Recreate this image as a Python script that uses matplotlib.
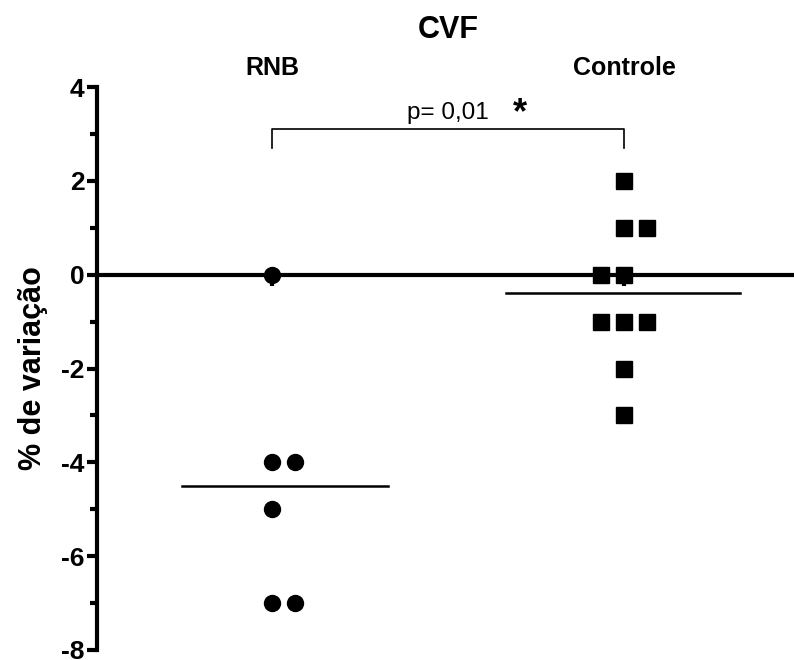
import matplotlib
matplotlib.use("Agg")
import matplotlib.pyplot as plt
import numpy as np

plt.rcParams['font.family'] = ['Liberation Sans', 'DejaVu Sans']

# Percent change in CVF per subject
groups = ["RNB", "Controle"]
rnb_values = [0, -4, -4, -5, -7, -7]
controle_values = [2, 1, 1, 0, 0, -1, -1, -1, -2, -3]
# horizontal slot of each point inside its column (for overlapping values)
rnb_slots = [0, 0, 1, 0, 0, 1]
controle_slots = [0, 0, 1, -1, 0, -1, 0, 1, 0, 0]
p_text = "p= 0,01"
y_ticks = [-8, -6, -4, -2, 0, 2, 4]

fig = plt.figure(figsize=(7.94, 6.6), dpi=100)
ax = fig.add_axes([0.1222, 0.0152, 0.8778, 0.8528])
ax.set_xlim(0.503, 2.483)
ax.set_ylim(-8, 4)

spacing = 0.065
series = [(rnb_values, rnb_slots, 'o'), (controle_values, controle_slots, 's')]
for i, (vals, slots, mk) in enumerate(series, start=1):
    xs = i + np.array(slots) * spacing
    ax.plot(xs, vals, linestyle='none', marker=mk, color='black',
            markersize=11.5, zorder=4, clip_on=False)
    m = np.mean(vals)
    ax.plot([i - 0.257, i + 0.33] if i == 1 else [i - 0.335, i + 0.33],
            [m, m], color='black', lw=1.8, zorder=3)

# spines: left axis and zero line
for s in ['top', 'right']:
    ax.spines[s].set_visible(False)
ax.spines['bottom'].set_position(('data', 0))
ax.spines['bottom'].set_linewidth(3)
ax.spines['left'].set_linewidth(3)
ax.spines['left'].set_bounds(-8, 4)

ax.set_yticks(y_ticks)
ax.set_yticklabels([str(t) for t in y_ticks], fontsize=19, fontweight='bold')
ax.set_yticks(np.arange(-7, 4, 2), minor=True)
ax.tick_params(axis='y', which='major', length=7, width=3, pad=2)
ax.tick_params(axis='y', which='minor', length=5, width=3)
ax.set_xticks([1, 2])
ax.set_xticklabels([])
ax.tick_params(axis='x', which='major', length=8, width=3, direction='out')

ax.set_ylabel("% de variação", fontsize=22, fontweight='bold')
ax.yaxis.set_label_coords(-0.07, 0.5)

# group labels above the columns
for i, g in enumerate(groups, start=1):
    ax.text(i, 4.4, g, ha='center', va='center', fontsize=18,
            fontweight='bold', clip_on=False)
fig.text(0.564, 0.955, "CVF", ha='center', va='center', fontsize=22,
         fontweight='bold')

# significance bracket
ax.plot([1, 1, 2, 2], [2.7, 3.1, 3.1, 2.7], color='black', lw=1.2,
        clip_on=False)
ax.text(1.5, 3.22, p_text, ha='center', va='bottom', fontsize=17.5,
        clip_on=False)
ax.text(1.705, 3.07, "*", ha='center', va='bottom', fontsize=26,
        fontweight='bold', clip_on=False)

fig.savefig("out.png", dpi=100)
